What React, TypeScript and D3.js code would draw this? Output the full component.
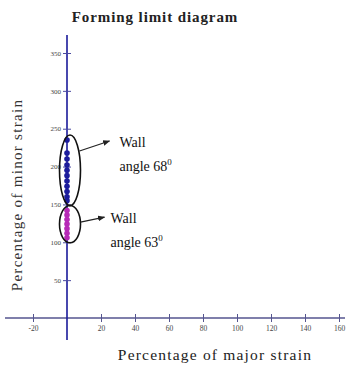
import { useEffect, useRef } from 'react'
import * as d3 from 'd3'

const xTicks = [-20, 20, 40, 60, 80, 100, 120, 140, 160]
const yTicks = [50, 100, 150, 200, 250, 300, 350]
const wall68 = [235, 218, 210, 202, 195, 188, 181, 174, 167, 160, 155]
const wall63 = [142, 136, 130, 124, 118, 112, 106]
const groups = [
  { label: 'Wall', angle: 'angle 68', values: wall68, color: '#1c1c9c' },
  { label: 'Wall', angle: 'angle 63', values: wall63, color: '#b62ab6' },
]

const W = 348
const H = 369
const serif = '"Liberation Serif", "DejaVu Serif", serif'

export default function App() {
  const ref = useRef<SVGSVGElement>(null)

  useEffect(() => {
    const el = ref.current
    if (!el) return
    const svg = d3.select(el)
    svg.selectAll('*').remove()

    const x = d3.scaleLinear().domain([-20, 160]).range([33, 339])
    const y = d3.scaleLinear().domain([0, 350]).range([318, 53])

    const defs = svg.append('defs')
    defs
      .append('marker')
      .attr('id', 'arr')
      .attr('viewBox', '0 0 10 10')
      .attr('refX', 9)
      .attr('refY', 5)
      .attr('markerWidth', 6)
      .attr('markerHeight', 6)
      .attr('orient', 'auto')
      .append('path')
      .attr('d', 'M0,1 L10,5 L0,9 Z')
      .attr('fill', '#222')

    // title
    svg
      .append('text')
      .attr('x', 155)
      .attr('y', 22)
      .attr('text-anchor', 'middle')
      .style('font-family', serif)
      .style('font-size', '15px')
      .style('font-weight', '700')
      .style('letter-spacing', '0.9px')
      .attr('fill', '#222')
      .text('Forming limit  diagram')

    // x axis
    svg
      .append('line')
      .attr('x1', 5)
      .attr('x2', 345)
      .attr('y1', y(0))
      .attr('y2', y(0))
      .attr('stroke', '#55558f')
      .attr('stroke-width', 1.6)

    const xg = svg.append('g').attr('transform', `translate(0,${y(0)})`)
    xg.call(
      d3
        .axisBottom(x)
        .tickValues(xTicks)
        .tickSize(4)
        .tickPadding(4)
        .tickFormat((d) => String(d))
    )
      .call((s) => s.select('.domain').remove())
      .call((s) => s.selectAll('line').attr('y1', -4).attr('stroke', '#55558f'))
      .call((s) =>
        s
          .selectAll('text')
          .attr('fill', '#444')
          .style('font-family', serif)
          .style('font-size', '7.5px')
      )

    // y axis
    svg
      .append('line')
      .attr('x1', x(0))
      .attr('x2', x(0))
      .attr('y1', 35)
      .attr('y2', 340)
      .attr('stroke', '#1a1a9a')
      .attr('stroke-width', 1.6)

    const yg = svg.append('g').attr('transform', `translate(${x(0)},0)`)
    yg.call(
      d3
        .axisLeft(y)
        .tickValues(yTicks)
        .tickSize(4)
        .tickPadding(2)
        .tickFormat((d) => String(d))
    )
      .call((s) => s.select('.domain').remove())
      .call((s) => s.selectAll('line').attr('x1', 4).attr('stroke', '#4a4aa0'))
      .call((s) =>
        s
          .selectAll('text')
          .attr('fill', '#444')
          .style('font-family', serif)
          .style('font-size', '7px')
      )

    // axis titles
    svg
      .append('text')
      .attr('x', 215)
      .attr('y', 360)
      .attr('text-anchor', 'middle')
      .style('font-family', serif)
      .style('font-size', '15.5px')
      .style('letter-spacing', '1.2px')
      .attr('fill', '#222')
      .text('Percentage of major strain')

    svg
      .append('text')
      .attr('transform', 'translate(22,195) rotate(-90)')
      .attr('text-anchor', 'middle')
      .style('font-family', serif)
      .style('font-size', '15px')
      .style('letter-spacing', '1.3px')
      .attr('fill', '#333')
      .text('Percentage of minor strain')

    // points + ellipses + annotations
    groups.forEach((g, i) => {
      const top = y(d3.max(g.values) as number)
      const bot = y(d3.min(g.values) as number)
      const cy = (top + bot) / 2
      const ry = (bot - top) / 2 + 5
      const cx = x(0) + 3
      const rx = 10.5

      svg
        .append('g')
        .selectAll('circle')
        .data(g.values)
        .join('circle')
        .attr('cx', x(0))
        .attr('cy', (d) => y(d))
        .attr('r', 2.8)
        .attr('fill', g.color)

      svg
        .append('ellipse')
        .attr('cx', cx)
        .attr('cy', cy)
        .attr('rx', rx)
        .attr('ry', ry)
        .attr('fill', 'none')
        .attr('stroke', '#111')
        .attr('stroke-width', 1.6)

      const ax1 = cx + rx - (i === 0 ? 1 : 0)
      const ay1 = i === 0 ? cy - ry * 0.55 : cy - 2
      const ax2 = ax1 + (i === 0 ? 30 : 24)
      const ay2 = ay1 - (i === 0 ? 10 : 5)
      svg
        .append('line')
        .attr('x1', ax1)
        .attr('y1', ay1)
        .attr('x2', ax2)
        .attr('y2', ay2)
        .attr('stroke', '#222')
        .attr('stroke-width', 1.2)
        .attr('marker-end', 'url(#arr)')

      const tx = ax2 + (i === 0 ? 10 : 6)
      svg
        .append('text')
        .attr('x', tx)
        .attr('y', ay2 + 6)
        .style('font-family', serif)
        .style('font-size', '14px')
        .attr('fill', '#111')
        .text(g.label)
      const t2 = svg
        .append('text')
        .attr('x', tx)
        .attr('y', ay2 + 30)
        .style('font-family', serif)
        .style('font-size', '14px')
        .attr('fill', '#111')
        .text(g.angle)
      t2.append('tspan').attr('dy', -6).style('font-size', '9px').text('0')
    })
  }, [])

  return (
    <svg
      ref={ref}
      width={W}
      height={H}
      style={{ position: 'absolute', left: 0, top: 0, background: '#fff' }}
    />
  )
}
